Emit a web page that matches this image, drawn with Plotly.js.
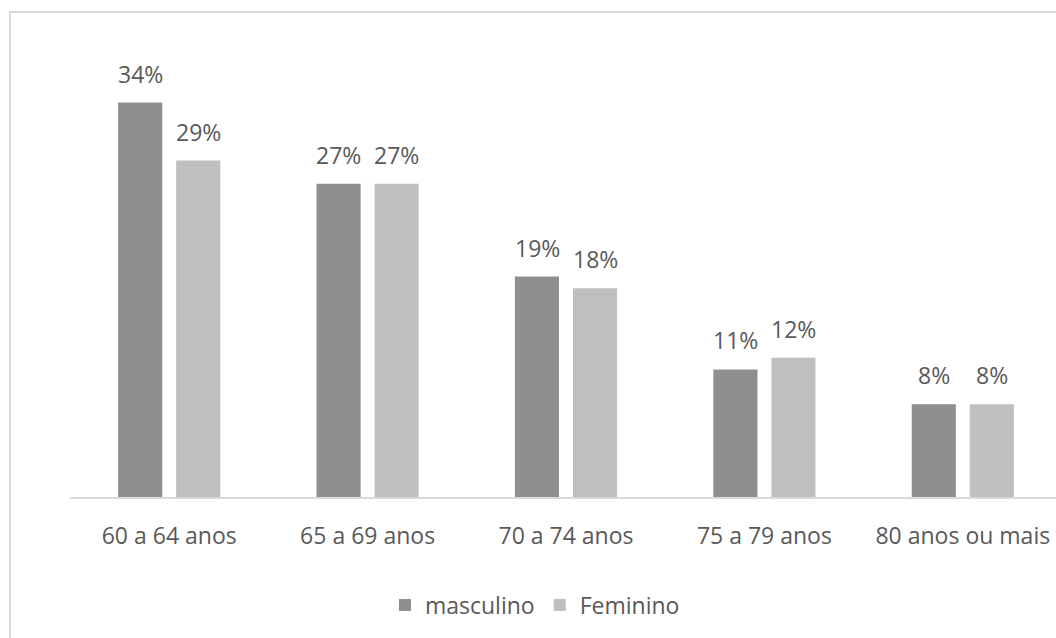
<!DOCTYPE html>
<html>
<head>
<meta charset="utf-8">
<script src="https://cdn.plot.ly/plotly-3.0.1.min.js"></script>
<style>
  html, body { margin: 0; padding: 0; width: 1056px; height: 638px; overflow: hidden; background: #fff; }
  #frame { position: absolute; left: 9px; top: 11px; width: 1200px; height: 800px;
           border-left: 2px solid #d9d9d9; border-top: 2px solid #d9d9d9; }
  #chart { position: absolute; left: 0; top: 0; }
</style>
</head>
<body>
<div id="frame"></div>
<div id="chart"></div>
<script>
// Faixas etárias e percentuais por sexo
const faixas = ['60 a 64 anos', '65 a 69 anos', '70 a 74 anos', '75 a 79 anos', '80 anos ou mais'];
const masculino = [34, 27, 19, 11, 8];
const feminino = [29, 27, 18, 12, 8];
const nomes = ['masculino', 'Feminino'];
const cores = ['#8f8f8f', '#bfbfbf'];

const corTexto = '#595959';
const fonte = 'Open Sans, Noto Sans, sans-serif';
const tamanho = 23;

const series = [masculino, feminino];
const traces = series.map((vals, i) => ({
  type: 'bar',
  name: nomes[i],
  x: faixas,
  y: vals,
  marker: { color: cores[i], line: { width: 0 } },
  hoverinfo: 'skip'
}));

// Rótulos de valor acima de cada barra
const deslocX = [-29, 29];
const annotations = [];
series.forEach((vals, i) => {
  vals.forEach((v, j) => {
    annotations.push({
      x: faixas[j], y: v, xref: 'x', yref: 'y',
      text: v + '%', showarrow: false,
      xanchor: 'center', yanchor: 'bottom',
      xshift: deslocX[i], yshift: 11,
      font: { family: fonte, size: tamanho, color: corTexto }
    });
  });
});

const layout = {
  width: 1080,
  height: 638,
  margin: { l: 70, r: 18, t: 33, b: 141, autoexpand: false },
  paper_bgcolor: 'rgba(0,0,0,0)',
  plot_bgcolor: 'rgba(0,0,0,0)',
  barmode: 'group',
  bargap: 0.415,
  bargroupgap: 0.24,
  font: { family: fonte, size: tamanho, color: corTexto },
  xaxis: {
    type: 'category',
    showline: true, linecolor: '#d9d9d9', linewidth: 2,
    ticks: '', showgrid: false, zeroline: false,
    tickfont: { family: fonte, size: tamanho, color: corTexto },
    ticklabelstandoff: 17,
    fixedrange: true
  },
  yaxis: {
    range: [0, 40],
    visible: false, showgrid: false, zeroline: false, fixedrange: true
  },
  showlegend: true,
  legend: {
    orientation: 'h',
    x: 0.3175, xanchor: 'left',
    y: -0.233, yanchor: 'middle',
    font: { family: fonte, size: tamanho, color: corTexto },
    itemwidth: 30,
    bgcolor: 'rgba(0,0,0,0)'
  },
  annotations: annotations
};

Plotly.newPlot('chart', traces, layout, { displayModeBar: false, staticPlot: true });
</script>
</body>
</html>
